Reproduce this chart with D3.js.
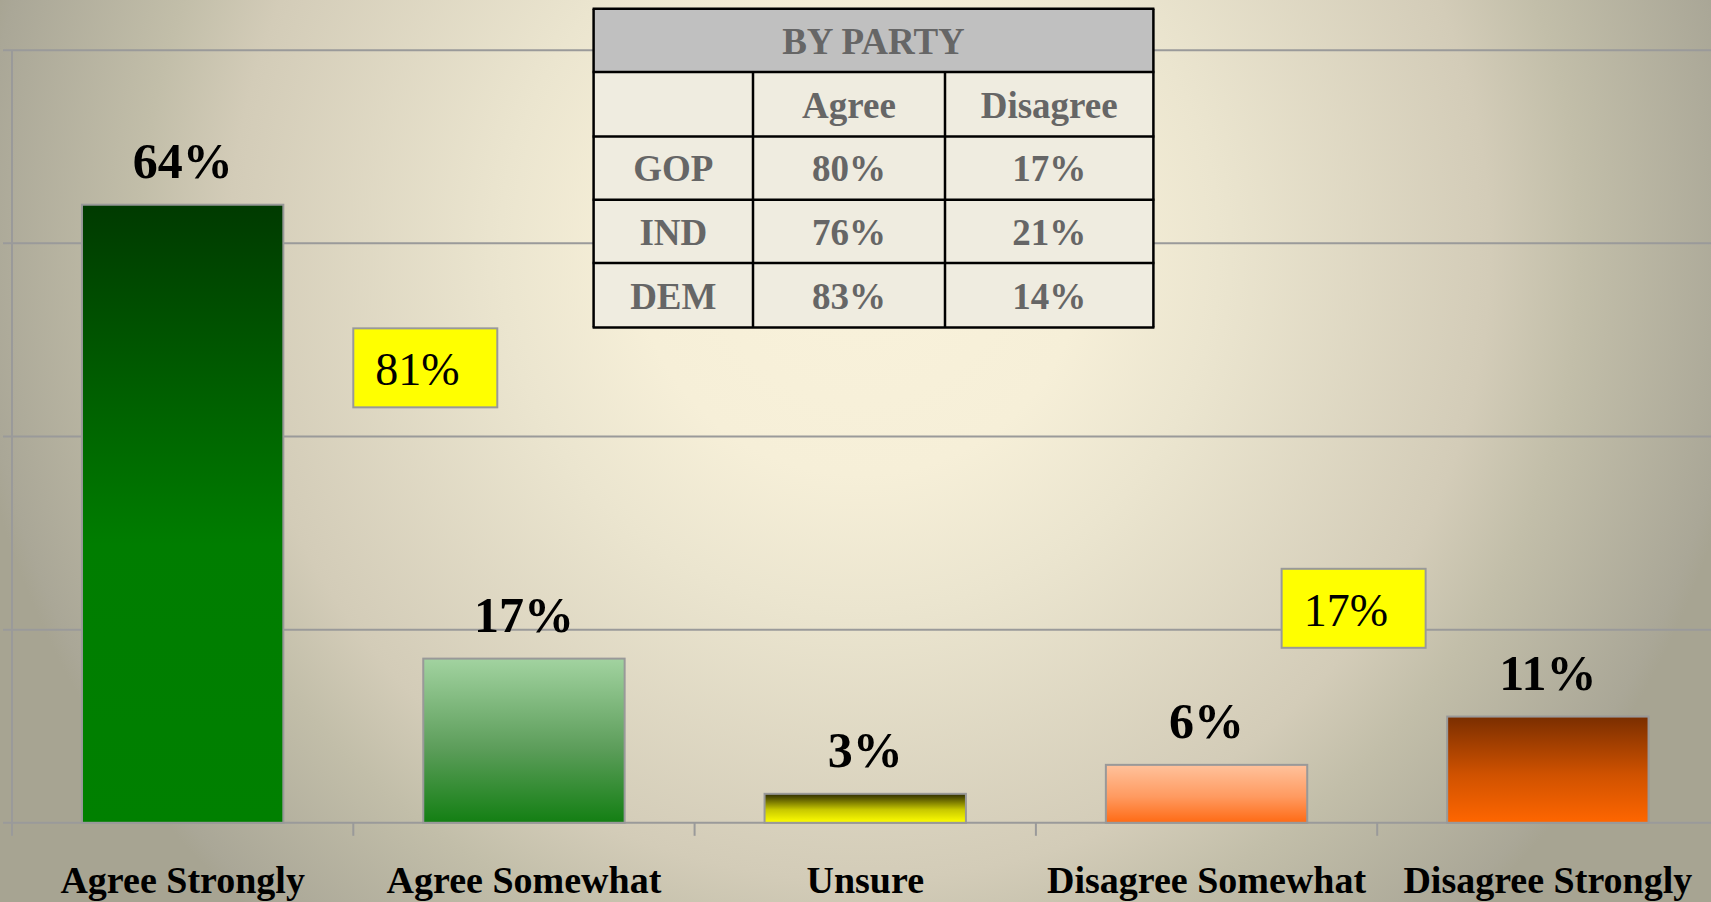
<!DOCTYPE html>
<html>
<head>
<meta charset="utf-8">
<style>
  body { margin: 0; overflow: hidden; }
  svg { display: block; font-family: "Liberation Serif", "Times New Roman", serif; }
</style>
</head>
<body>
<svg width="1711" height="902"></svg>
<script src="https://cdn.jsdelivr.net/npm/d3@7"></script>
<script>

// chart data
var categories = ["Agree Strongly", "Agree Somewhat", "Unsure", "Disagree Somewhat", "Disagree Strongly"];
var values = [64, 17, 3, 6, 11];
var yTicks = [0, 20, 40, 60, 80];

// totals shown in the yellow boxes
var summaryLabels = ["81%", "17%"];

// "by party" table
var parties = ["GOP", "IND", "DEM"];
var partyAgree = [80, 76, 83];
var partyDisagree = [17, 21, 14];
var tableCols = ["", "Agree", "Disagree"];

// bar gradients, top colour -> bottom colour
var barColors = [
  ["#003a00", "#007d00", "#008000"],
  ["#a2d3a0", "#5c9d5a", "#137f13"],
  ["#2c2a00", "#c8c800", "#ffff00"],
  ["#ffc29c", "#ff9a60", "#ff6a14"],
  ["#7a2e00", "#d05200", "#ff6600"]
];

var width = 1711, height = 902;

var svg = d3.select("svg");
var defs = svg.append("defs");

// background: soft radial glow, cream in the middle, grey at the sides
var bg = defs.append("radialGradient").attr("id", "bg")
  .attr("gradientUnits", "userSpaceOnUse")
  .attr("cx", 860).attr("cy", 250).attr("r", 900);
bg.selectAll("stop")
  .data([[0, "#f9f2db"], [0.25, "#f6efd8"], [0.4, "#ebe5cf"], [0.7, "#d3ccb8"],
         [0.8, "#c2bea9"], [0.98, "#aaa797"], [1, "#a7a492"]])
  .join("stop").attr("offset", d => d[0]).attr("stop-color", d => d[1]);

svg.append("rect").attr("width", width).attr("height", height).attr("fill", "url(#bg)");

barColors.forEach(function(c, i) {
  var g = defs.append("linearGradient").attr("id", "bar" + i)
    .attr("x1", "0%").attr("x2", "0%").attr("y1", "0%").attr("y2", "100%");
  g.append("stop").attr("offset", "0%").attr("stop-color", c[0]);
  g.append("stop").attr("offset", "55%").attr("stop-color", c[1]);
  g.append("stop").attr("offset", "100%").attr("stop-color", c[2]);
});

var x = d3.scaleBand()
  .domain(categories)
  .range([12, 1718.5])
  .paddingInner(0.41)
  .paddingOuter(0.205);

var y = d3.scaleLinear()
  .domain([0, 80])
  .range([822.8, 50.2]);

var axisColor = "#9a9a9a";

// gridlines + y ticks
svg.append("g")
  .selectAll("line")
  .data(yTicks)
  .join("line")
  .attr("x1", 3)
  .attr("x2", width)
  .attr("y1", d => y(d))
  .attr("y2", d => y(d))
  .attr("stroke", axisColor)
  .attr("stroke-width", 2);

// y axis line
svg.append("line")
  .attr("x1", 12).attr("x2", 12)
  .attr("y1", y(80)).attr("y2", y(0) + 13)
  .attr("stroke", axisColor).attr("stroke-width", 2);

// category boundary ticks
var step = x.step();
var bounds = categories.map(c => x(c) - step * x.paddingInner() / 2).slice(1);
svg.append("g")
  .selectAll("line")
  .data(bounds)
  .join("line")
  .attr("x1", d => d).attr("x2", d => d)
  .attr("y1", y(0)).attr("y2", y(0) + 13)
  .attr("stroke", axisColor).attr("stroke-width", 2);

// bars
svg.append("g")
  .selectAll("rect")
  .data(values)
  .join("rect")
  .attr("x", (d, i) => x(categories[i]))
  .attr("y", d => y(d))
  .attr("width", x.bandwidth())
  .attr("height", d => y(0) - y(d))
  .attr("fill", (d, i) => "url(#bar" + i + ")")
  .attr("stroke", "#999")
  .attr("stroke-width", 2);

// value labels
svg.append("g")
  .selectAll("text")
  .data(values)
  .join("text")
  .attr("x", (d, i) => x(categories[i]) + x.bandwidth() / 2)
  .attr("y", d => y(d) - 27)
  .attr("text-anchor", "middle")
  .attr("font-weight", "bold")
  .attr("font-size", 50)
  .attr("fill", "#000")
  .text(d => d + "%");

// category labels
svg.append("g")
  .selectAll("text")
  .data(categories)
  .join("text")
  .attr("x", d => x(d) + x.bandwidth() / 2)
  .attr("y", 893)
  .attr("text-anchor", "middle")
  .attr("font-weight", "bold")
  .attr("font-size", 38)
  .attr("fill", "#000")
  .text(d => d);

// yellow summary boxes
var boxW = 144, boxH = 79;
var boxPos = [
  { x: bounds[0], top: 51.2 },
  { x: x(categories[3]) + step * 0.515, top: 26.3 }
];
var boxes = svg.append("g")
  .selectAll("g")
  .data(summaryLabels)
  .join("g")
  .attr("transform", (d, i) => "translate(" + boxPos[i].x + "," + y(boxPos[i].top) + ")");
boxes.append("rect")
  .attr("width", boxW).attr("height", boxH)
  .attr("fill", "#ffff00")
  .attr("stroke", "#999").attr("stroke-width", 2);
boxes.append("text")
  .attr("x", 22).attr("y", 57)
  .attr("font-size", 46)
  .attr("fill", "#000")
  .text(d => d);

// table
var colX = [593.6, 753, 945, 1153.4];
var rowY = [8.7, 72, 136.4, 199.7, 263, 327.4];
var tblFont = 37;
var tColor = "#666666";
var tbl = svg.append("g");

tbl.append("rect")
  .attr("x", colX[0]).attr("y", rowY[0])
  .attr("width", colX[3] - colX[0]).attr("height", rowY[1] - rowY[0])
  .attr("fill", "#c0c0c0");
tbl.append("rect")
  .attr("x", colX[0]).attr("y", rowY[1])
  .attr("width", colX[3] - colX[0]).attr("height", rowY[5] - rowY[1])
  .attr("fill", "#efece0");

tbl.append("text")
  .attr("x", (colX[0] + colX[3]) / 2)
  .attr("y", (rowY[0] + rowY[1]) / 2 + tblFont * 0.36)
  .attr("text-anchor", "middle")
  .attr("font-weight", "bold").attr("font-size", tblFont)
  .attr("fill", tColor)
  .text("BY PARTY");

var rows = [tableCols].concat(parties.map((p, i) => [p, partyAgree[i] + "%", partyDisagree[i] + "%"]));
rows.forEach(function(r, ri) {
  r.forEach(function(cell, ci) {
    tbl.append("text")
      .attr("x", (colX[ci] + colX[ci + 1]) / 2)
      .attr("y", (rowY[ri + 1] + rowY[ri + 2]) / 2 + tblFont * 0.36)
      .attr("text-anchor", "middle")
      .attr("font-weight", "bold").attr("font-size", tblFont)
      .attr("fill", tColor)
      .text(cell);
  });
});

// table borders
tbl.selectAll(".hline")
  .data(rowY)
  .join("line")
  .attr("x1", colX[0] - 1).attr("x2", colX[3] + 1)
  .attr("y1", d => d).attr("y2", d => d)
  .attr("stroke", "#000").attr("stroke-width", 2.5);
tbl.append("line")
  .attr("x1", colX[0]).attr("x2", colX[0])
  .attr("y1", rowY[0]).attr("y2", rowY[5])
  .attr("stroke", "#000").attr("stroke-width", 2.5);
tbl.append("line")
  .attr("x1", colX[3]).attr("x2", colX[3])
  .attr("y1", rowY[0]).attr("y2", rowY[5])
  .attr("stroke", "#000").attr("stroke-width", 2.5);
[colX[1], colX[2]].forEach(function(cx) {
  tbl.append("line")
    .attr("x1", cx).attr("x2", cx)
    .attr("y1", rowY[1]).attr("y2", rowY[5])
    .attr("stroke", "#000").attr("stroke-width", 2.5);
});

</script>
</body>
</html>
